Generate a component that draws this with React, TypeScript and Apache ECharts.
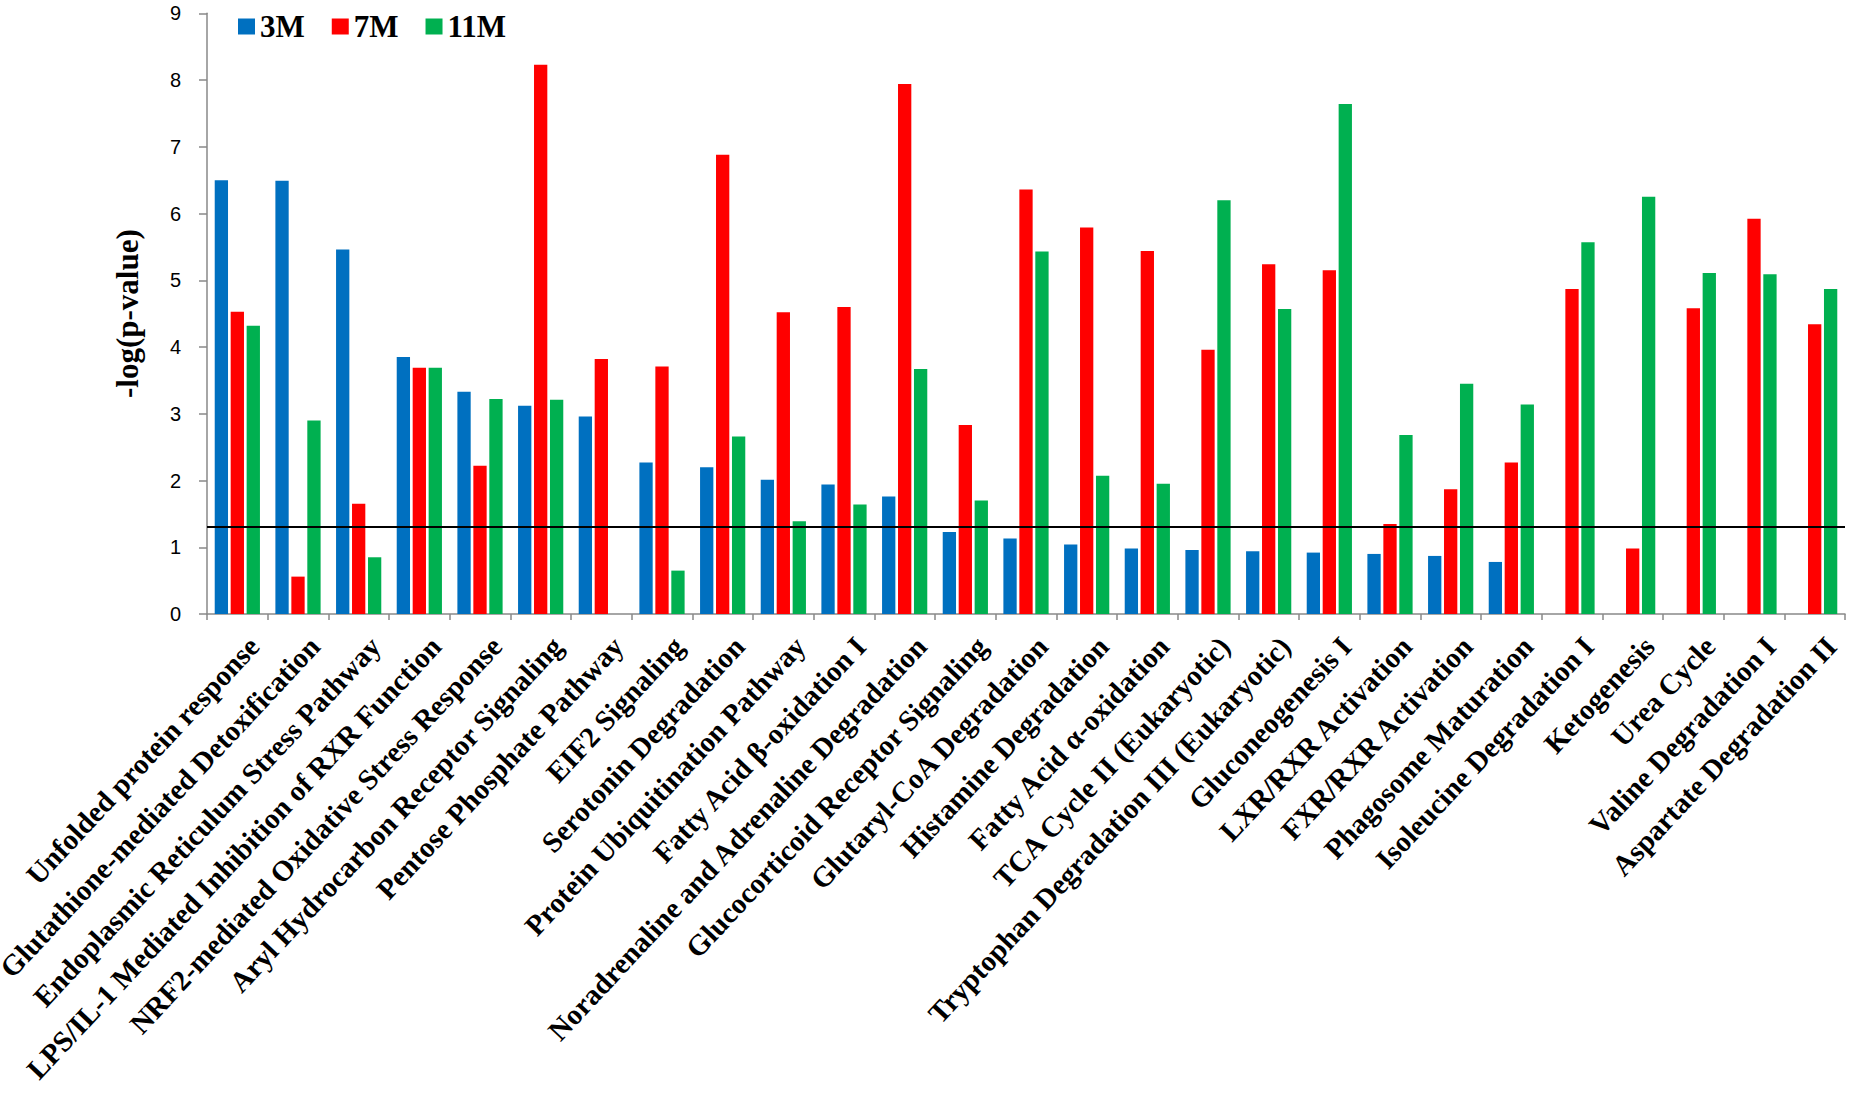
import React, { useEffect, useRef } from "react";
import * as echarts from "echarts";

const categories: string[] = [
  "Unfolded protein response",
  "Glutathione-mediated Detoxification",
  "Endoplasmic Reticulum Stress Pathway",
  "LPS/IL-1 Mediated Inhibition of RXR Function",
  "NRF2-mediated Oxidative Stress Response",
  "Aryl Hydrocarbon Receptor Signaling",
  "Pentose Phosphate Pathway",
  "EIF2 Signaling",
  "Serotonin Degradation",
  "Protein Ubiquitination Pathway",
  "Fatty Acid β-oxidation I",
  "Noradrenaline and Adrenaline Degradation",
  "Glucocorticoid Receptor Signaling",
  "Glutaryl-CoA Degradation",
  "Histamine Degradation",
  "Fatty Acid α-oxidation",
  "TCA Cycle II (Eukaryotic)",
  "Tryptophan Degradation III (Eukaryotic)",
  "Gluconeogenesis I",
  "LXR/RXR Activation",
  "FXR/RXR Activation",
  "Phagosome Maturation",
  "Isoleucine Degradation I",
  "Ketogenesis",
  "Urea Cycle",
  "Valine Degradation I",
  "Aspartate Degradation II",
];

const seriesNames: string[] = ["3M", "7M", "11M"];

const values3M: (number | null)[] = [
  6.5, 6.49, 5.46, 3.85, 3.33, 3.12, 2.96, 2.27, 2.2, 2.01, 1.94, 1.76, 1.23,
  1.13, 1.04, 0.98, 0.96, 0.94, 0.92, 0.9, 0.87, 0.78, null, null, null, null,
  null,
];

const values7M: (number | null)[] = [
  4.53, 0.56, 1.65, 3.69, 2.22, 8.23, 3.82, 3.71, 6.88, 4.52, 4.6, 7.94, 2.83,
  6.36, 5.79, 5.44, 3.96, 5.24, 5.15, 1.35, 1.87, 2.27, 4.87, 0.98, 4.58, 5.92,
  4.34,
];

const values11M: (number | null)[] = [
  4.32, 2.9, 0.85, 3.69, 3.22, 3.21, null, 0.65, 2.66, 1.39, 1.64, 3.67, 1.7,
  5.43, 2.07, 1.95, 6.2, 4.57, 7.64, 2.68, 3.45, 3.14, 5.57, 6.25, 5.11, 5.09,
  4.87,
];

const threshold = 1.3;
const yTicks = { min: 0, max: 9, interval: 1 };

const colors = ["#0070C0", "#FF0000", "#00B050"];

const SERIF = '"Times New Roman", "Liberation Serif", serif';
const SANS = 'Arial, "Liberation Sans", sans-serif';

export default function App() {
  const ref = useRef<HTMLDivElement>(null);

  useEffect(() => {
    if (!ref.current) return;
    const chart = echarts.init(ref.current, null, { renderer: "svg" });
    const allValues = [values3M, values7M, values11M];
    const axisColor = "#898989";

    const series: any[] = seriesNames.map((name, i) => ({
      name,
      type: "bar",
      data: allValues[i].map((v) => (v === null ? "-" : v)),
      barWidth: 13.3,
      barGap: "20%",
      itemStyle: { color: colors[i] },
      emphasis: { disabled: true },
    }));

    series[0].markLine = {
      silent: true,
      symbol: ["none", "none"],
      label: { show: false },
      lineStyle: { color: "#000000", width: 2, type: "solid" },
      data: [{ yAxis: threshold }],
    };

    chart.setOption({
      animation: false,
      color: colors,
      grid: {
        left: 207,
        right: 5,
        top: 13.3,
        bottom: 484,
        containLabel: false,
        outerBoundsMode: "none",
      },
      legend: {
        data: seriesNames,
        left: 233,
        top: 6,
        itemWidth: 17,
        itemHeight: 16,
        itemGap: 27,
        icon: "rect",
        textStyle: {
          fontFamily: SERIF,
          fontWeight: "bold",
          fontSize: 31,
          color: "#000000",
        },
      },
      xAxis: {
        type: "category",
        data: categories,
        axisLine: { lineStyle: { color: axisColor, width: 1.5 } },
        axisTick: { show: true, length: 6, lineStyle: { color: axisColor, width: 1.5 } },
        axisLabel: {
          interval: 0,
          rotate: 47,
          margin: 12,
          padding: [8, 0, 0, 0],
          verticalAlign: "top",
          fontFamily: SERIF,
          fontWeight: "bold",
          fontSize: 29,
          color: "#000000",
        },
        splitLine: { show: false },
      },
      yAxis: {
        type: "value",
        min: yTicks.min,
        max: yTicks.max,
        interval: yTicks.interval,
        name: "-log(p-value)",
        nameLocation: "middle",
        nameGap: 64,
        nameTextStyle: {
          fontFamily: SERIF,
          fontWeight: "bold",
          fontSize: 31,
          color: "#000000",
        },
        axisLine: { show: true, lineStyle: { color: axisColor, width: 1.5 } },
        axisTick: { show: true, length: 8, lineStyle: { color: axisColor, width: 1.5 } },
        axisLabel: {
          margin: 26,
          fontFamily: SANS,
          fontSize: 20,
          color: "#000000",
        },
        splitLine: { show: false },
      },
      series,
    });

    return () => {
      chart.dispose();
    };
  }, []);

  return (
    <div
      ref={ref}
      style={{
        position: "absolute",
        left: 0,
        top: 0,
        width: 1850,
        height: 1098,
        background: "#ffffff",
      }}
    />
  );
}
